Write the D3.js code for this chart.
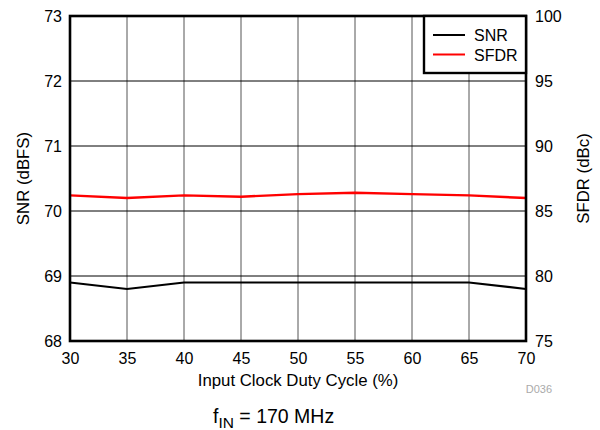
<!DOCTYPE html>
<html><head><meta charset="utf-8">
<script src="https://cdn.jsdelivr.net/npm/d3@7"></script>
<style>
body{margin:0;background:#fff;}
text{font-family:"Liberation Sans",Arial,sans-serif;fill:#000;}
</style></head>
<body><svg id="c" width="600" height="430"></svg>
<script>
const dutyCycle = [30, 35, 40, 45, 50, 55, 60, 65, 70];
const snrValues = [68.9, 68.8, 68.9, 68.9, 68.9, 68.9, 68.9, 68.9, 68.8];
const sfdrValues = [86.2, 86.0, 86.2, 86.1, 86.3, 86.4, 86.3, 86.2, 86.0];
const xTicks = [30, 35, 40, 45, 50, 55, 60, 65, 70];
const leftTicks = [68, 69, 70, 71, 72, 73];
const rightTicks = [75, 80, 85, 90, 95, 100];

const svg = d3.select("#c");
const L = 70, R = 526, T = 16, B = 341;
const x = d3.scaleLinear().domain([30, 70]).range([L, R]);
const yL = d3.scaleLinear().domain([68, 73]).range([B, T]);
const yR = d3.scaleLinear().domain([75, 100]).range([B, T]);
const fmt = d3.format("d");

// gridlines
const g = svg.append("g");
g.selectAll(".vg").data(xTicks.slice(1, -1)).enter().append("line")
  .attr("x1", d => x(d)).attr("x2", d => x(d)).attr("y1", T).attr("y2", B)
  .attr("stroke", "#555").attr("stroke-width", 1);
g.selectAll(".hg").data(leftTicks.slice(1, -1)).enter().append("line")
  .attr("x1", L).attr("x2", R).attr("y1", d => yL(d)).attr("y2", d => yL(d))
  .attr("stroke", "#000").attr("stroke-width", 1);

// axes (labels only)
const fs = "16px";
const ff = '"Liberation Sans",Arial,sans-serif';
const ax = svg.append("g").attr("transform", `translate(0,${B})`)
  .call(d3.axisBottom(x).tickValues(xTicks).tickFormat(fmt).tickSize(0).tickPadding(12));
ax.select(".domain").remove();
ax.selectAll("text").style("font-size", fs).style("font-family", ff);

const al = svg.append("g").attr("transform", `translate(${L},0)`)
  .call(d3.axisLeft(yL).tickValues(leftTicks).tickFormat(fmt).tickSize(0).tickPadding(8));
al.select(".domain").remove();
al.selectAll("text").style("font-size", fs).style("font-family", ff);

const ar = svg.append("g").attr("transform", `translate(${R},0)`)
  .call(d3.axisRight(yR).tickValues(rightTicks).tickFormat(fmt).tickSize(0).tickPadding(9));
ar.select(".domain").remove();
ar.selectAll("text").style("font-size", fs).style("font-family", ff);

// lines
const lineSNR = d3.line().x((d, i) => x(dutyCycle[i])).y(d => yL(d));
const lineSFDR = d3.line().x((d, i) => x(dutyCycle[i])).y(d => yR(d));
svg.append("path").datum(snrValues).attr("d", lineSNR)
  .attr("fill", "none").attr("stroke", "#000").attr("stroke-width", 2.2);
svg.append("path").datum(sfdrValues).attr("d", lineSFDR)
  .attr("fill", "none").attr("stroke", "#ff0000").attr("stroke-width", 2.4);

// frame
svg.append("rect").attr("x", L).attr("y", T).attr("width", R - L).attr("height", B - T)
  .attr("fill", "none").attr("stroke", "#000").attr("stroke-width", 2.6);

// legend
const lg = svg.append("g");
lg.append("rect").attr("x", 424).attr("y", T).attr("width", R - 424).attr("height", 57)
  .attr("fill", "#fff").attr("stroke", "#000").attr("stroke-width", 2.4);
const legendItems = [{name: "SNR", color: "#000"}, {name: "SFDR", color: "#ff0000"}];
legendItems.forEach((it, i) => {
  const yy = 35 + i * 19.5;
  lg.append("line").attr("x1", 433).attr("x2", 465).attr("y1", yy).attr("y2", yy)
    .attr("stroke", it.color).attr("stroke-width", 2);
  lg.append("text").attr("x", 474).attr("y", yy + 6).style("font-size", fs).text(it.name);
});

// titles
svg.append("text").attr("x", (L + R) / 2).attr("y", 386).attr("text-anchor", "middle")
  .style("font-size", "16.8px").text("Input Clock Duty Cycle (%)");
svg.append("text").attr("transform", `translate(29,${(T + B) / 2}) rotate(-90)`)
  .attr("text-anchor", "middle").style("font-size", "16.8px").text("SNR (dBFS)");
svg.append("text").attr("transform", `translate(589,${(T + B) / 2}) rotate(-90)`)
  .attr("text-anchor", "middle").style("font-size", "16.8px").text("SFDR (dBc)");
svg.append("text").attr("x", 552).attr("y", 393).attr("text-anchor", "end")
  .style("font-size", "11px").style("fill", "#aaa").text("D036");

const ft = svg.append("text").attr("x", 213).attr("y", 423).style("font-size", "19.5px");
ft.append("tspan").text("f");
ft.append("tspan").attr("dy", 5).style("font-size", "15.5px").text("IN");
ft.append("tspan").attr("dy", -5).text(" = 170 MHz");
</script></body></html>
